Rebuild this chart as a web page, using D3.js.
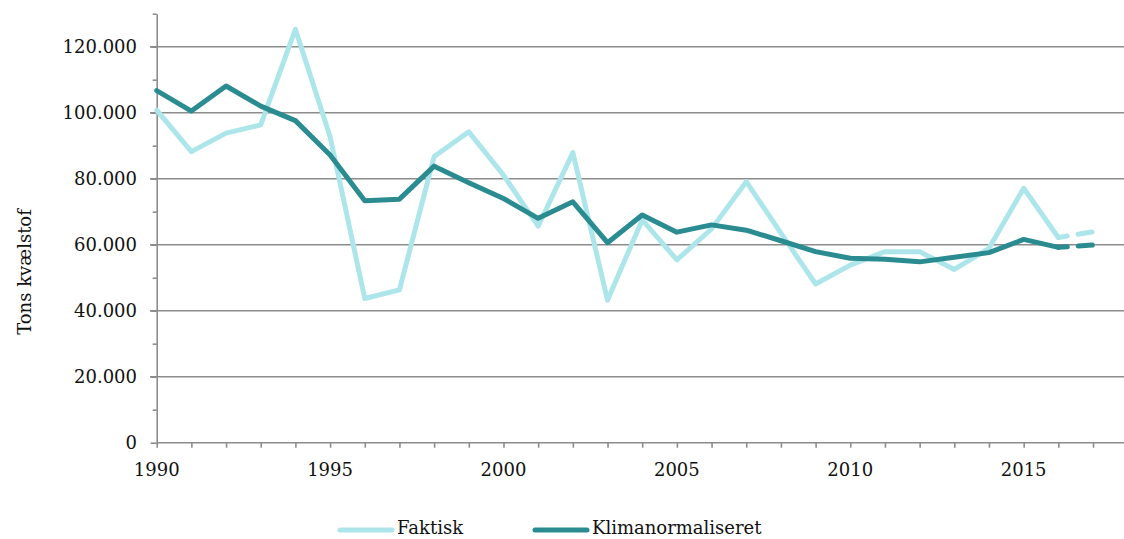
<!DOCTYPE html>
<html>
<head>
<meta charset="utf-8">
<script src="https://cdn.jsdelivr.net/npm/d3@7"></script>
<style>
  html, body { margin: 0; padding: 0; background: #fff; }
  svg { display: block; }
  text { font-family: "DejaVu Serif", Georgia, serif; fill: #111; }
</style>
</head>
<body>
<svg id="chart" width="1124" height="539"></svg>
<script>
// ---- data ----
const years = [1990,1991,1992,1993,1994,1995,1996,1997,1998,1999,2000,2001,2002,2003,2004,2005,2006,2007,2008,2009,2010,2011,2012,2013,2014,2015,2016,2017];
const faktisk = [100800,88200,93800,96300,125300,92700,43700,46300,86700,94200,81100,65600,87900,43200,67500,55400,64800,79100,63500,48100,53800,57900,57900,52500,58900,77100,62200,63900];
const klima = [106700,100500,108100,102000,97600,87200,73300,73800,83800,78800,74000,68000,73000,60600,69000,63800,66000,64400,61200,57900,55900,55600,54800,56200,57600,61600,59200,59900];
const dashedFromYear = 2016;
const yTicks = [0,20000,40000,60000,80000,100000,120000];
const xTickLabels = [1990,1995,2000,2005,2010,2015];
const seriesNames = ["Faktisk","Klimanormaliseret"];
const yTitle = "Tons kvælstof";

// ---- setup ----
const svg = d3.select("#chart");
const colors = ["#ade6ea", "#2a8c90"];
const gridColor = "#8c8c8c";
const locale = d3.formatLocale({decimal: ",", thousands: ".", grouping: [3], currency: ["", " kr."]});
const fmt = locale.format(",d");
const fs = 18;

const x = d3.scaleLinear().domain([1990, 2018]).range([156.7, 1127.7]);
const y = d3.scaleLinear().domain([0, 130000]).range([442.7, 13.7]);
const xRight = 1124;

// gridlines
svg.append("g").selectAll("line").data(yTicks.filter(d => d > 0)).join("line")
  .attr("x1", 150).attr("x2", xRight)
  .attr("y1", d => y(d)).attr("y2", d => y(d))
  .attr("stroke", gridColor).attr("stroke-width", 1.6);

// y axis
const yAxis = d3.axisLeft(y).tickValues(d3.range(0, 130001, 10000)).tickSize(0).tickFormat("");
const gy = svg.append("g").attr("transform", `translate(${x(1990)},0)`).call(yAxis);
gy.select(".domain").attr("stroke", gridColor).attr("stroke-width", 1.6);
gy.selectAll(".tick line").attr("x2", d => (d % 20000 === 0) ? -6 : -4).attr("stroke", gridColor).attr("stroke-width", 1.6);

// y labels
svg.append("g").selectAll("text").data(yTicks).join("text")
  .attr("x", 137).attr("y", d => y(d)).attr("dy", "0.35em")
  .attr("text-anchor", "end").attr("font-size", fs)
  .text(d => fmt(d));

// x axis
const xAxis = d3.axisBottom(x).tickValues(years).tickSize(5).tickFormat("");
const gx = svg.append("g").attr("transform", `translate(0,${y(0)})`).call(xAxis);
gx.select(".domain").attr("d", `M${x(1990)},0H${xRight}`).attr("stroke", gridColor).attr("stroke-width", 1.6);
gx.selectAll(".tick line").attr("stroke", gridColor).attr("stroke-width", 1.6);

svg.append("g").selectAll("text").data(xTickLabels).join("text")
  .attr("x", d => x(d)).attr("y", 476)
  .attr("text-anchor", "middle").attr("font-size", fs)
  .text(d => d);

// y title
svg.append("text")
  .attr("transform", `translate(31,272) rotate(-90)`)
  .attr("text-anchor", "middle").attr("font-size", fs)
  .text(yTitle);

// lines
const line = d3.line().x(d => x(d[0])).y(d => y(d[1]));
[faktisk, klima].forEach((vals, i) => {
  const pts = years.map((yr, j) => [yr, vals[j]]);
  const solid = pts.filter(p => p[0] <= dashedFromYear);
  const dashed = pts.filter(p => p[0] >= dashedFromYear);
  svg.append("path").datum(solid).attr("d", line)
    .attr("fill", "none").attr("stroke", colors[i]).attr("stroke-width", 5)
    .attr("stroke-linejoin", "round").attr("stroke-linecap", "round");
  svg.append("path").datum(dashed).attr("d", line)
    .attr("fill", "none").attr("stroke", colors[i]).attr("stroke-width", 5)
    .attr("stroke-linecap", "round").attr("stroke-dasharray", "9,11,14,40");
});

// legend
const legendItems = [{x: 340, name: seriesNames[0], c: colors[0]}, {x: 535, name: seriesNames[1], c: colors[1]}];
const lg = svg.append("g");
legendItems.forEach(it => {
  lg.append("line").attr("x1", it.x).attr("x2", it.x + 52).attr("y1", 530).attr("y2", 530)
    .attr("stroke", it.c).attr("stroke-width", 5).attr("stroke-linecap", "round");
  lg.append("text").attr("x", it.x + 57).attr("y", 528).attr("dy", "0.35em")
    .attr("font-size", fs).text(it.name);
});
</script>
</body>
</html>
